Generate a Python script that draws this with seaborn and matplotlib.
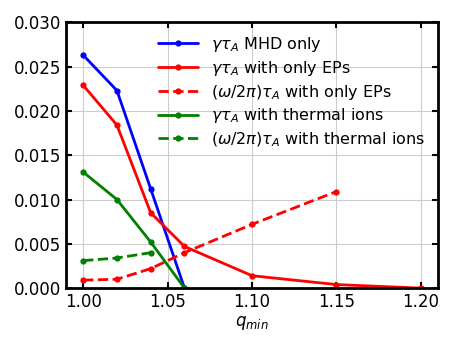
import numpy as np
import pandas as pd
import matplotlib.pyplot as plt
import seaborn as sns

# Данные
q_mhd = [1.00, 1.02, 1.04, 1.06]
gamma_mhd = [0.0263, 0.0223, 0.0112, 0.0]

q_ep = [1.00, 1.02, 1.04, 1.06, 1.10, 1.15, 1.20]
gamma_ep = [0.0229, 0.0184, 0.0085, 0.0047, 0.0014, 0.0004, 0.0]

q_ep_freq = [1.00, 1.02, 1.04, 1.06, 1.10, 1.15]
freq_ep = [0.0009, 0.0010, 0.0022, 0.0040, 0.0072, 0.0109]

q_th = [1.00, 1.02, 1.04, 1.06]
gamma_th = [0.0131, 0.0100, 0.0052, 0.0]

q_th_freq = [1.00, 1.02, 1.04]
freq_th = [0.0031, 0.0034, 0.0040]

sns.set_style('whitegrid')
plt.rcParams['font.family'] = 'DejaVu Sans'
plt.rcParams['text.color'] = 'black'
plt.rcParams['axes.labelcolor'] = 'black'
plt.rcParams['xtick.color'] = 'black'
plt.rcParams['ytick.color'] = 'black'

fig, ax = plt.subplots(figsize=(4.57, 3.43), dpi=100)

series = [
    (q_mhd, gamma_mhd, 'blue', '-', r'$\gamma\tau_A$ MHD only'),
    (q_ep, gamma_ep, 'red', '-', r'$\gamma\tau_A$ with only EPs'),
    (q_ep_freq, freq_ep, 'red', '--', r'$(\omega/2\pi)\tau_A$ with only EPs'),
    (q_th, gamma_th, 'green', '-', r'$\gamma\tau_A$ with thermal ions'),
    (q_th_freq, freq_th, 'green', '--', r'$(\omega/2\pi)\tau_A$ with thermal ions'),
]
for x, y, c, ls, lab in series:
    sns.lineplot(x=x, y=y, ax=ax, color=c, linestyle=ls, marker='o',
                 markersize=4.5, markeredgewidth=0, linewidth=2, label=lab)

ax.set_xlim(0.99, 1.21)
ax.set_ylim(0, 0.030)
ax.set_xticks([1.00, 1.05, 1.10, 1.15, 1.20])
ax.set_yticks(np.arange(0, 0.0301, 0.005))
ax.xaxis.set_major_formatter(plt.FormatStrFormatter('%.2f'))
ax.yaxis.set_major_formatter(plt.FormatStrFormatter('%.3f'))
ax.set_xlabel(r'$q_{min}$', fontsize=12, labelpad=2)
ax.tick_params(direction='in', top=True, right=True, labelsize=12,
               length=4, width=1.5, color='black', bottom=True, left=True)
ax.grid(True, color='#cccccc', linewidth=0.8)
for s in ax.spines.values():
    s.set_color('black')
    s.set_linewidth(2)

ax.legend(loc='upper right', frameon=False, fontsize=11.5, handlelength=2.5,
          labelspacing=0.3, borderaxespad=0.4)

fig.subplots_adjust(left=0.145, right=0.958, top=0.935, bottom=0.16)
fig.savefig('out.png', dpi=100)
